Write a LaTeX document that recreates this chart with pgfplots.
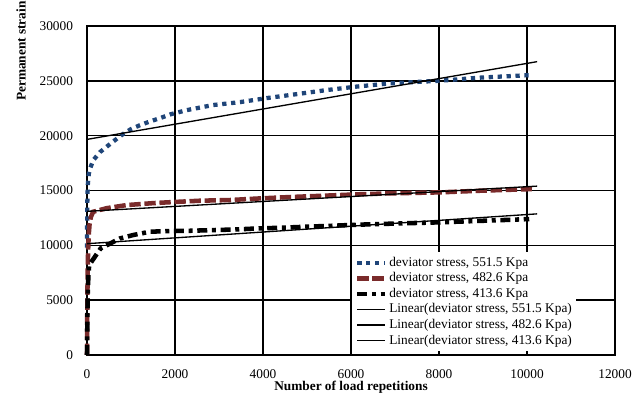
\documentclass[border=0pt]{standalone}
\usepackage{fontspec}
\setmainfont{Liberation Serif}
\usepackage{pgfplots}
\pgfplotsset{compat=1.18}

\definecolor{stressblue}{HTML}{1F4579}
\definecolor{stressred}{HTML}{7A2B2B}

\begin{document}
\begin{tikzpicture}
\begin{axis}[
  name=ax,
  scale only axis,
  width=396pt, height=246.75pt,
  xmin=0, xmax=12000, ymin=0, ymax=30000,
  xtick={0,2000,...,12000},
  ytick={0,5000,...,30000},
  scaled ticks=false,
  /pgf/number format/.cd, fixed, 1000 sep={}, assume math mode=true, /pgfplots/.cd,
  grid=major,
  major grid style={black, line width=1.15pt},
  axis line style={black, line width=1.15pt},
  major tick length=0pt,
  clip=false,
  xticklabel style={yshift=-8.6pt, inner ysep=2pt},
  yticklabel style={xshift=-7pt},
  xlabel={\textbf{Number of load repetitions}},
  xlabel style={at={(axis description cs:0.5,0)}, anchor=north, inner ysep=0pt, yshift=-19.6pt},
  ylabel={\textbf{Permanent strain}},
  ylabel style={at={(axis description cs:-0.125,0.758)}, anchor=west},
  legend style={at={(axis description cs:0.502,0.313)}, anchor=north west,
    draw=none, fill=white, inner xsep=2pt, inner ysep=2pt,
    cells={anchor=west},
    nodes={text height=7pt, text depth=2pt, inner sep=1.35pt},
    row sep=0pt},
  legend image code/.code={\draw[#1, line cap=butt] (0pt,0pt) -- (21pt,0pt);},
]
% measured permanent strain, 551.5 kPa
\addplot[stressblue, line width=3.2pt, dash pattern=on 3.2pt off 3.5pt] coordinates {
  (0,9800) (2,11500) (5,13000) (10,14500) (20,15600) (40,16500) (70,17000)
  (140,17750) (295,18500) (450,19000) (590,19450) (820,20150) (1000,20600)
  (1200,20950) (1400,21250) (1660,21600) (1900,21950) (2270,22330)
  (2860,22790) (3480,23060) (4090,23430) (4770,23790) (5450,24160)
  (6140,24480) (6890,24770) (8020,25010) (8930,25290) (10050,25520)};
\addlegendentry{deviator stress, 551.5 Kpa}
% measured permanent strain, 482.6 kPa
\addplot[stressred, line width=3.4pt, dash pattern=on 8.5pt off 2.8pt] coordinates {
  (0,0) (3,2500) (8,5000) (15,7500) (25,9500) (40,11000) (60,12000)
  (90,12600) (140,13060) (450,13390) (900,13670) (1510,13850) (1970,13950)
  (2570,14070) (3250,14130) (3930,14280) (4770,14430) (5600,14560)
  (6140,14650) (6890,14740) (8020,14830) (8930,14980) (10110,15130)};
\addlegendentry{deviator stress, 482.6 Kpa}
% measured permanent strain, 413.6 kPa
\addplot[black, line width=3.4pt, dash pattern=on 7.5pt off 3.5pt on 3pt off 3.5pt] coordinates {
  (0,0) (5,2000) (10,4000) (20,6000) (35,7500) (50,8200) (310,9720)
  (750,10630) (1050,10940) (1430,11240) (1820,11300) (2270,11320)
  (2860,11390) (3400,11450) (3860,11540) (4390,11600) (5000,11700)
  (5600,11790) (6140,11880) (7110,12000) (7950,12090) (9000,12240)
  (9890,12370) (10050,12400)};
\addlegendentry{deviator stress, 413.6 Kpa}
% linear trend lines
\addplot[black, line width=1pt] coordinates {(0,19660) (10230,26750)};
\addlegendentry{Linear(deviator stress, 551.5 Kpa)}
\addplot[black, line width=1pt] coordinates {(0,13100) (10230,15400)};
\addlegendentry{Linear(deviator stress, 482.6 Kpa)}
\addplot[black, line width=1pt] coordinates {(0,10150) (10230,12870)};
\addlegendentry{Linear(deviator stress, 413.6 Kpa)}
\end{axis}
\pgfresetboundingbox
\path[use as bounding box] ([shift={(-65.25pt,-29.25pt)}]ax.south west)
  rectangle ([shift={(416.25pt,266.25pt)}]ax.south west);
\end{tikzpicture}
\end{document}
